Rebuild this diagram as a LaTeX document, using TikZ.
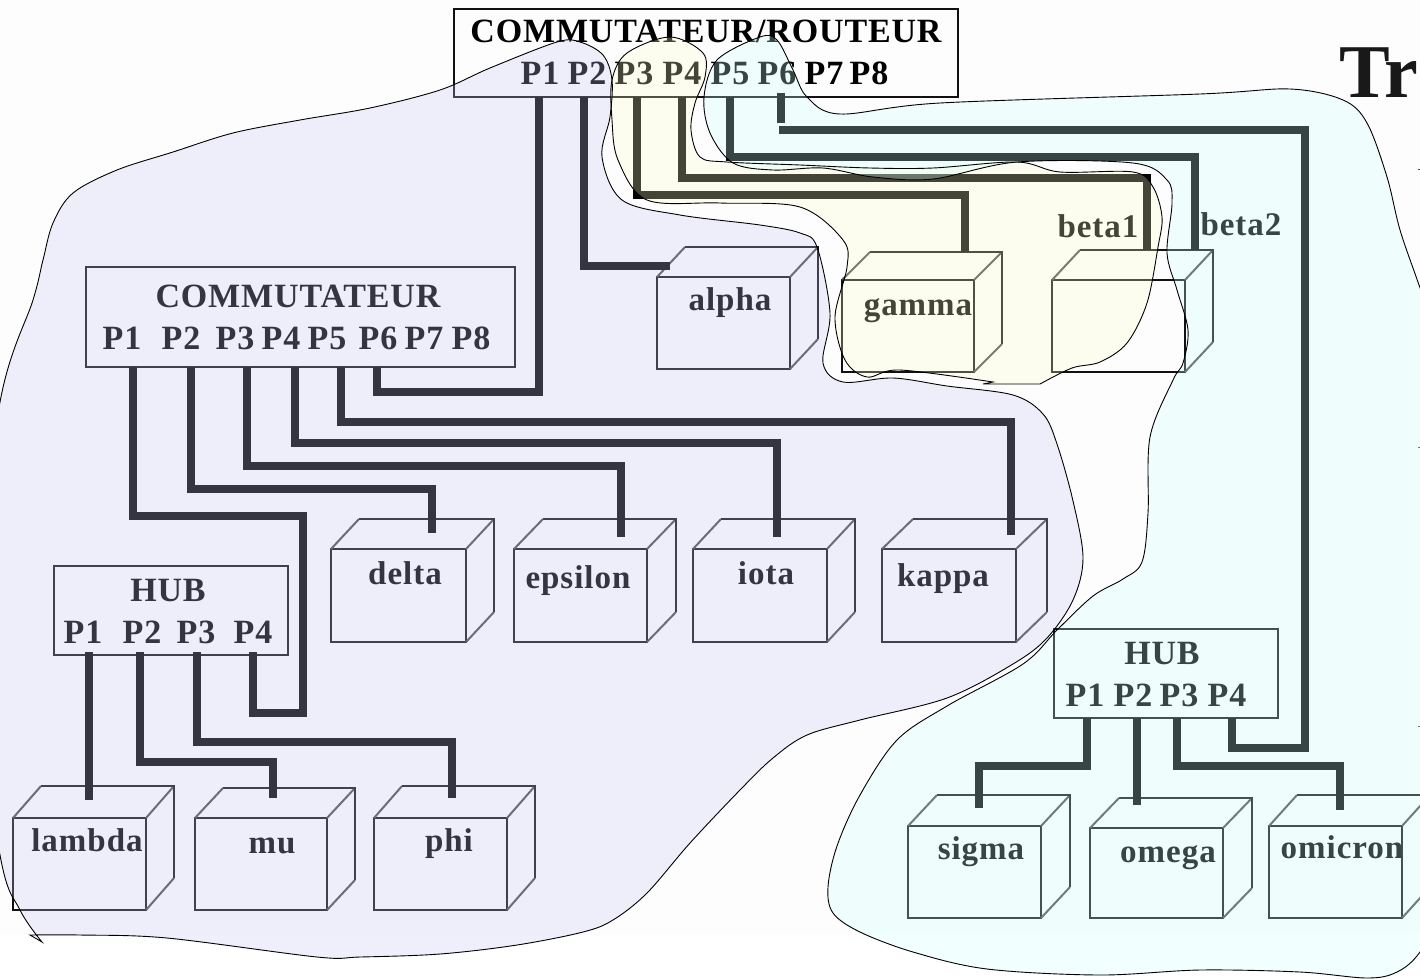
\documentclass[tikz,border=0pt]{standalone}
\usepackage{fontspec}
\setmainfont{Liberation Serif}
\newfontfamily\lblfont{Liberation Serif}[BoldFont={Liberation Serif Bold},LetterSpace=3]
\newfontfamily\hdrfont{Liberation Serif}[BoldFont={Liberation Serif Bold},LetterSpace=2.5]
\definecolor{bgc}{HTML}{FDFDFD}
\definecolor{blobp}{HTML}{C6C6F2}
\definecolor{bloby}{HTML}{FFFFCC}
\definecolor{blobc}{HTML}{CCFFFF}
\definecolor{ink}{HTML}{111111}
\tikzset{
  hostline/.style={draw=ink,line width=2.6pt,line join=miter},
  hostdiag/.style={draw=ink!75,line width=2pt},
  boxnode/.style={draw=ink,line width=2.6pt,inner sep=0pt,outer sep=0pt},
  wire/.style={draw=black,line width=8.5pt,line cap=butt,line join=miter},
  hdrtext/.style={inner sep=0pt,anchor=base,font=\hdrfont\bfseries\fontsize{34}{34}\selectfont},
  hosttext/.style={inner sep=0pt,anchor=base,font=\lblfont\bfseries\fontsize{33}{33}\selectfont},
  blobfill/.style={draw=none,fill opacity=.27},
  blobline/.style={draw=black,line width=.9pt},
}
\newcommand{\cubeN}[7]{% name x0 y0 x1 y1 backx backy
  \pgfmathsetmacro{\cw}{#4-#2}\pgfmathsetmacro{\ch}{#5-#3}
  \node[boxnode,minimum width=\cw pt,minimum height=\ch pt] (#1) at ({(#2+#4)/2},{(#3+#5)/2}) {};
  \draw[hostdiag] (#1.north west) -- (#6-\cw,#7);
  \draw[hostdiag] (#6,#7) -- (#1.north east);
  \draw[hostdiag] (#6,#7+\ch) -- (#1.south east);
  \draw[hostline] (#6-\cw,#7) -- (#6,#7) -- (#6,#7+\ch);
}
\begin{document}
\begin{tikzpicture}[x=1pt,y=-1pt]
\useasboundingbox (0,0) rectangle (1420,978);
\clip (0,0) rectangle (1420,978);
\fill[white] (0,0) rectangle (1420,978);
\fill[bgc] (0,0) rectangle (1420,935);

% title and cropped marks
\node[anchor=base west,inner sep=0pt,font=\bfseries\fontsize{76}{76}\selectfont,text=black!90] (title) at (1339,97) {Tr};
\coordinate (t1a) at (1418,169); \coordinate (t1b) at (1420,169);
\coordinate (t2a) at (1418,447); \coordinate (t2b) at (1420,447);
\coordinate (t3a) at (1418,726); \coordinate (t3b) at (1420,726);
\draw[line width=1pt,black!70] (t1a)--(t1b) (t2a)--(t2b) (t3a)--(t3b);

% switch/router
\node[boxnode,minimum width=504pt,minimum height=88pt] (rr) at (706,53) {};
\node[hdrtext] (rrT) at (706,42) {COMMUTATEUR/ROUTEUR};
\foreach \n/\x in {1/540,2/587,3/634,4/682,5/730,6/777,7/824,8/869}
  \node[hdrtext] (rrP\n) at (\x,84) {P\n};

% switch
\node[boxnode,minimum width=429pt,minimum height=100pt] (sw) at (300.5,317) {};
\node[hdrtext] (swT) at (298,307) {COMMUTATEUR};
\foreach \n/\x in {1/122,2/181,3/235,4/281,5/327,6/378,7/424,8/471}
  \node[hdrtext] (swP\n) at (\x,349) {P\n};

% hubs
\node[boxnode,minimum width=234pt,minimum height=89pt] (hubL) at (171,610.5) {};
\node[hdrtext] (hubLT) at (168,601) {HUB};
\foreach \n/\x in {1/83,2/142,3/196,4/253}
  \node[hdrtext] (hubLP\n) at (\x,643) {P\n};
\node[boxnode,minimum width=224pt,minimum height=89pt] (hubR) at (1166,673.5) {};
\node[hdrtext] (hubRT) at (1162,664) {HUB};
\foreach \n/\x in {1/1085,2/1133,3/1179,4/1227}
  \node[hdrtext] (hubRP\n) at (\x,706) {P\n};

% hosts
\cubeN{alpha}{657}{277}{790}{369}{818}{247}
\cubeN{gamma}{842}{280}{974}{372}{1002}{252}
\cubeN{betab}{1052}{280}{1185}{372}{1213}{250}
\cubeN{delta}{331}{549}{466}{642}{494}{519}
\cubeN{epsilon}{514}{549}{647}{642}{676}{519}
\cubeN{iota}{693}{549}{827}{642}{855}{519}
\cubeN{kappa}{882}{549}{1016}{642}{1047}{519}
\cubeN{lambda}{13}{818}{146}{910}{174}{786}
\cubeN{mu}{195}{818}{327}{910}{355}{788}
\cubeN{phi}{374}{818}{507}{910}{535}{786}
\cubeN{sigma}{908}{826}{1041}{918}{1070}{795}
\cubeN{omega}{1090}{828}{1223}{918}{1252}{798}
\cubeN{omicron}{1269}{826}{1402}{918}{1430}{795}

\node[hosttext] (alphaT) at (730,310) {alpha};
\node[hosttext] (gammaT) at (918,315) {gamma};
\node[hosttext] (beta1T) at (1098,237) {beta1};
\node[hosttext] (beta2T) at (1241,235) {beta2};
\node[hosttext] (deltaT) at (405,584) {delta};
\node[hosttext] (epsilonT) at (578,588) {epsilon};
\node[hosttext] (iotaT) at (766,584) {iota};
\node[hosttext] (kappaT) at (943,586) {kappa};
\node[hosttext] (lambdaT) at (87,851) {lambda};
\node[hosttext] (muT) at (272,853) {mu};
\node[hosttext] (phiT) at (449,851) {phi};
\node[hosttext] (sigmaT) at (981,859) {sigma};
\node[hosttext] (omegaT) at (1168,862) {omega};
\node[hosttext] (omicronT) at (1342,858) {omicron};

% connector ends
\foreach \n/\x in {1/539,2/584,3/637,4/682,5/730} \coordinate (rrW\n) at (\x,97);
\coordinate (rrW6) at (781,93);
\foreach \n/\x in {1/133,2/191,3/247,4/295,5/341,6/377} \coordinate (swW\n) at (\x,367);
\foreach \n/\x in {1/89,2/140,3/197,4/253} \coordinate (hubLW\n) at (\x,652);
\foreach \n/\x in {1/1087,2/1137,3/1177,4/1232} \coordinate (hubRW\n) at (\x,718);
\coordinate (alphaW) at (670,266);
\coordinate (gammaW) at (965,252);
\coordinate (beta1W) at (1147,250);
\coordinate (beta2W) at (1195,250);
\coordinate (deltaW) at (432,533);
\coordinate (epsilonW) at (621,537);
\coordinate (iotaW) at (777,537);
\coordinate (kappaW) at (1011,535);
\coordinate (lambdaW) at (89,800);
\coordinate (muW) at (273,798);
\coordinate (phiW) at (452,798);
\coordinate (sigmaW) at (979,808);
\coordinate (omegaW) at (1137,805);
\coordinate (omicronW) at (1340,810);
\coordinate (p6stub) at (781,123);
\coordinate (p6run) at (779,130);

% connectors
\draw[wire] (rrW1) -- (539,392) -- (377,392) -- (swW6);
\draw[wire] (rrW2) |- (alphaW);
\draw[wire] (rrW3) -- (637,195) -- (965,195) -- (gammaW);
\draw[wire] (rrW4) -- (682,178) -- (1147,178) -- (beta1W);
\draw[wire] (rrW5) -- (730,157) -- (1195,157) -- (beta2W);
\draw[wire] (rrW6) -- (p6stub);
\draw[wire] (p6run) -- (1305,130) -- (1305,748) -- (1232,748) -- (hubRW4);
\draw[wire] (swW1) -- (133,516) -- (303,516) -- (303,713) -- (253,713) -- (hubLW4);
\draw[wire] (swW2) -- (191,489) -- (432,489) -- (deltaW);
\draw[wire] (swW3) -- (247,466) -- (621,466) -- (epsilonW);
\draw[wire] (swW4) -- (295,443) -- (777,443) -- (iotaW);
\draw[wire] (swW5) -- (341,422) -- (1011,422) -- (kappaW);
\draw[wire] (hubLW1) -- (lambdaW);
\draw[wire] (hubLW2) -- (140,762) -- (273,762) -- (muW);
\draw[wire] (hubLW3) -- (197,742) -- (452,742) -- (phiW);
\draw[wire] (hubRW1) -- (1087,766) -- (979,766) -- (sigmaW);
\draw[wire] (hubRW2) -- (omegaW);
\draw[wire] (hubRW3) -- (1177,766) -- (1340,766) -- (omicronW);

% zones
\def\purplepts{(42,942)(20,910)(0,855)(-30,640)(0,402)(33,300)(43,260)(53,223)(73,193)(117,170)(173,152)(233,133)(300,120)(370,108)(440,90)(490,68)(557,42)(580,42)(603,55)(612,80)(610,117)(602,157)(622,200)(680,215)(760,225)(800,233)(817,247)(830,313)(823,363)(843,382)(893,378)(947,386)(1013,395)(1043,414)(1057,444)(1073,501)(1083,558)(1073,600)(1047,638)(1013,664)(947,698)(860,720)(807,735)(773,758)(740,790)(690,843)(647,893)(613,920)(583,932)(517,945)(440,954)(360,957)(317,957)(167,938)(80,935)(30,935)}
\def\yellowpts{(993,382)(900,370)(867,377)(845,360)(835,317)(847,267)(843,240)(800,207)(720,203)(647,200)(618,160)(612,120)(612,80)(627,53)(670,37)(703,53)(705,77)(695,103)(691,130)(700,157)(727,162)(800,165)(870,168)(933,168)(1017,162)(1060,172)(1133,172)(1153,187)(1162,217)(1158,247)(1147,303)(1127,343)(1100,362)(1072,368)(1040,384)}
\def\cyanpts{(760,37)(777,40)(793,70)(807,97)(840,114)(940,103)(1200,94)(1290,89)(1343,100)(1367,123)(1387,177)(1400,230)(1419,285)(1445,360)(1450,600)(1450,900)(1420,952)(1397,972)(1367,978)(1300,972)(1200,970)(1100,975)(987,969)(913,952)(860,932)(833,913)(828,887)(837,846)(860,795)(897,740)(947,706)(1023,664)(1057,630)(1093,596)(1123,579)(1142,562)(1148,513)(1150,437)(1173,380)(1183,363)(1188,330)(1177,290)(1167,253)(1172,203)(1167,180)(1133,163)(1017,162)(933,179)(873,177)(823,168)(773,170)(733,163)(710,133)(704,97)(717,60)}
\path[blobfill,fill=blobp] plot[smooth,tension=.55] coordinates {\purplepts} -- cycle;
\path[blobfill,fill=bloby] plot[smooth,tension=.55] coordinates {\yellowpts} -- (983,384) -- cycle;
\path[blobfill,fill=blobc] plot[smooth cycle,tension=.55] coordinates {\cyanpts};
\draw[blobline] plot[smooth,tension=.55] coordinates {\purplepts} -- cycle;
\draw[blobline] plot[smooth,tension=.55] coordinates {\yellowpts} -- (983,384) -- cycle;
\draw[blobline] plot[smooth cycle,tension=.55] coordinates {\cyanpts};
\end{tikzpicture}
\end{document}
